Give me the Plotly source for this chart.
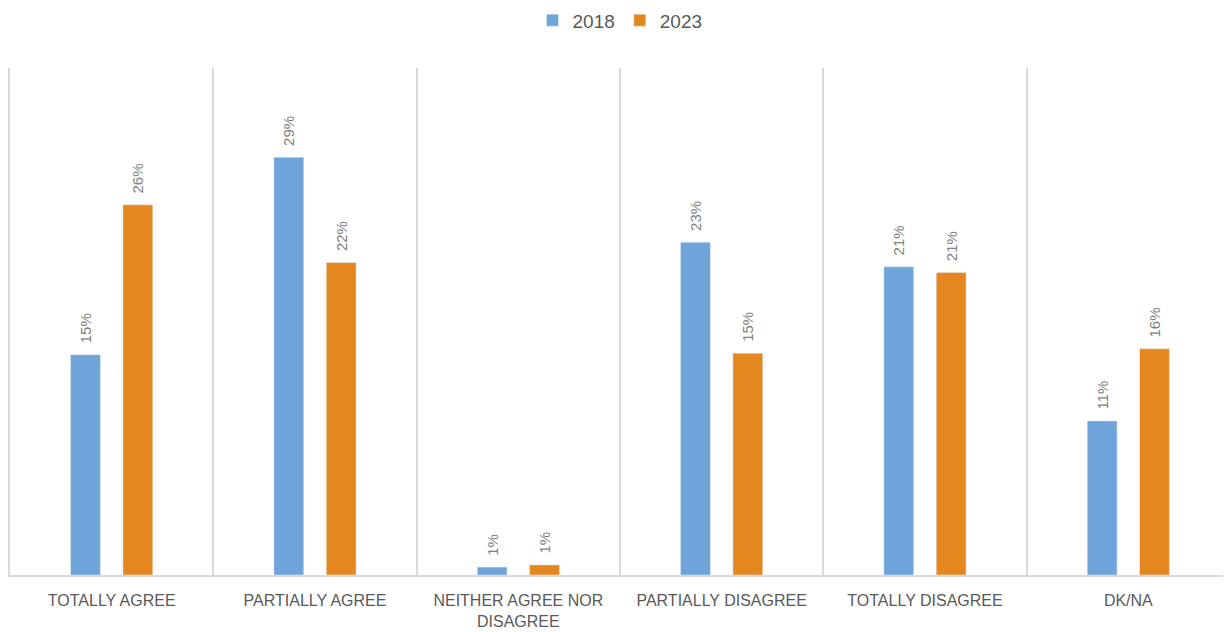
import plotly.graph_objects as go

categories = ["TOTALLY AGREE", "PARTIALLY AGREE", "NEITHER AGREE NOR<br>DISAGREE",
              "PARTIALLY DISAGREE", "TOTALLY DISAGREE", "DK/NA"]
values_2018 = [15.3, 29.0, 0.55, 23.1, 21.4, 10.7]
values_2023 = [25.7, 21.7, 0.7, 15.4, 21.0, 15.7]
labels_2018 = ["15%", "29%", "1%", "23%", "21%", "11%"]
labels_2023 = ["26%", "22%", "1%", "15%", "21%", "16%"]

fig = go.Figure()
for name, vals, labs, color in [("2018", values_2018, labels_2018, "#6fa4da"),
                                ("2023", values_2023, labels_2023, "#e3871e")]:
    fig.add_trace(go.Bar(
        x=categories, y=vals, name=name, marker_color=color,
        text=["  " + t for t in labs], textposition="outside", textangle=-90,
        constraintext="none",
        textfont=dict(color="#7f7f7f", size=15, family="Liberation Sans"),
        cliponaxis=False,
    ))

fig.update_layout(
    width=1223, height=624,
    margin=dict(l=2, r=1, t=60, b=57, autoexpand=False),
    paper_bgcolor="white", plot_bgcolor="white",
    barmode="group", bargap=0.485, bargroupgap=0.43,
    font=dict(family="Liberation Sans", color="#595959", size=16),
    legend=dict(orientation="h", x=0.5, xanchor="center", y=1.094, yanchor="middle",
                yref="paper", font=dict(size=19, color="#595959"),
                itemwidth=30),
    showlegend=True,
)
fig.update_xaxes(tickson="boundaries", showgrid=True, gridcolor="#d9d9d9", gridwidth=1.5,
                 showline=True, linecolor="#d9d9d9", linewidth=1.5, mirror=False,
                 ticks="", ticklabelstandoff=10,
                 tickfont=dict(size=16, color="#595959"), range=[-0.5, 5.5])
fig.update_yaxes(range=[0, 35.2], showgrid=False, showticklabels=False, zeroline=False,
                 showline=True, linecolor="#d9d9d9", linewidth=1.5, mirror=True)

fig.write_html("out.html")
